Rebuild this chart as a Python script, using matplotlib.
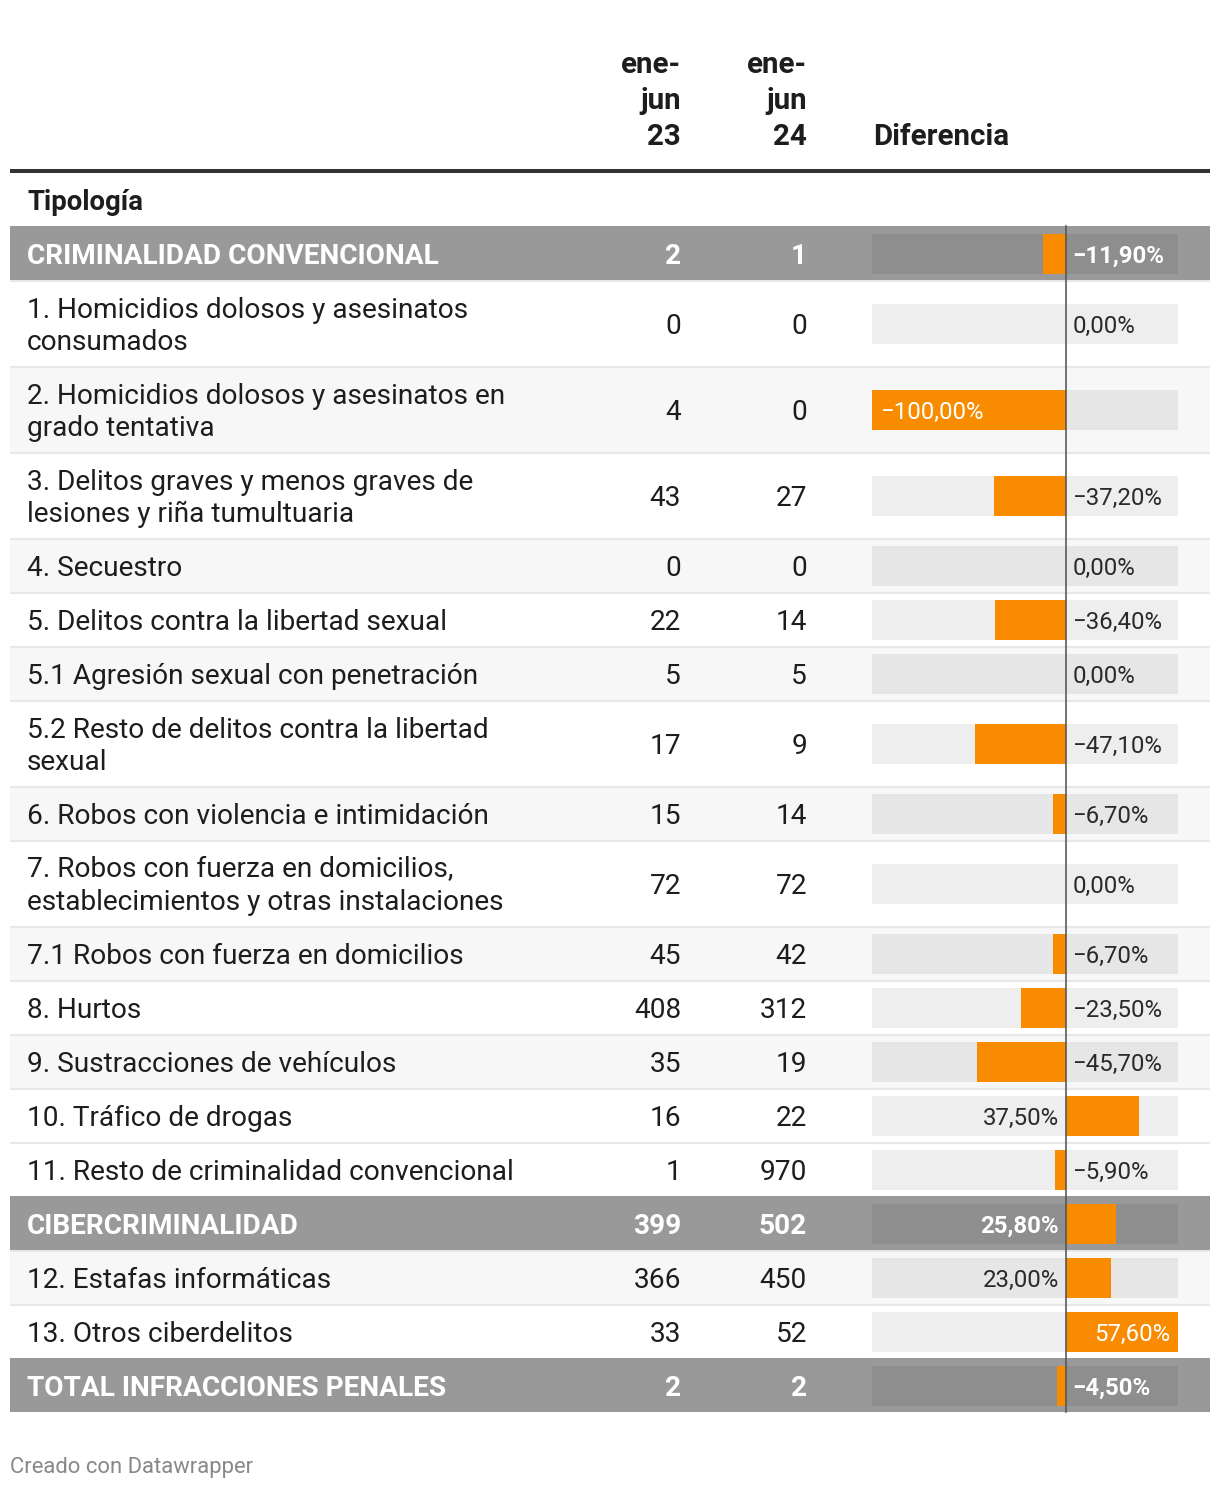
import matplotlib
matplotlib.use('Agg')
from matplotlib import pyplot as plt
from matplotlib.patches import Rectangle
from matplotlib import transforms

plt.rcParams['font.family'] = ['Roboto', 'DejaVu Sans']

# datos de la tabla
categorias = [
    'CRIMINALIDAD CONVENCIONAL',
    '1. Homicidios dolosos y asesinatos\nconsumados',
    '2. Homicidios dolosos y asesinatos en\ngrado tentativa',
    '3. Delitos graves y menos graves de\nlesiones y riña tumultuaria',
    '4. Secuestro',
    '5. Delitos contra la libertad sexual',
    '5.1 Agresión sexual con penetración',
    '5.2 Resto de delitos contra la libertad\nsexual',
    '6. Robos con violencia e intimidación',
    '7. Robos con fuerza en domicilios,\nestablecimientos y otras instalaciones',
    '7.1 Robos con fuerza en domicilios',
    '8. Hurtos',
    '9. Sustracciones de vehículos',
    '10. Tráfico de drogas',
    '11. Resto de criminalidad convencional',
    'CIBERCRIMINALIDAD',
    '12. Estafas informáticas',
    '13. Otros ciberdelitos',
    'TOTAL INFRACCIONES PENALES',
]
ene_jun_23 = [2, 0, 4, 43, 0, 22, 5, 17, 15, 72, 45, 408, 35, 16, 1, 399, 366, 33, 2]
ene_jun_24 = [1, 0, 0, 27, 0, 14, 5, 9, 14, 72, 42, 312, 19, 22, 970, 502, 450, 52, 2]
diferencia = [-11.9, 0.0, -100.0, -37.2, 0.0, -36.4, 0.0, -47.1, -6.7, 0.0,
              -6.7, -23.5, -45.7, 37.5, -5.9, 25.8, 23.0, 57.6, -4.5]
es_grupo = [True, False, False, False, False, False, False, False, False, False,
            False, False, False, False, False, True, False, False, True]

# estilo
rayado = [False, False, True, False, True, False, True, False, True, False,
          True, False, True, False, False, False, True, False, False]
NARANJA = '#f88b00'
TEXTO = '#1d1d1d'
W, H = 1220, 1488
PT = 0.72  # px -> pt (dpi 100)
DY = 2     # ajuste vertical del texto


def fmt(v):
    s = f'{abs(v):.2f}'.replace('.', ',') + '%'
    return ('\u2212' + s) if v < 0 else s


fig = plt.figure(figsize=(W / 100, H / 100), dpi=100)
ax = fig.add_axes([0, 0, 1, 1])
ax.set_xlim(0, W)
ax.set_ylim(H, 0)
ax.axis('off')

# eje de las barras: x en %, y en píxeles
bx0, bx1 = 872, 1178
axb = fig.add_axes([bx0 / W, 0, (bx1 - bx0) / W, 1])
axb.set_xlim(-100, 57.6)
axb.set_ylim(H, 0)
axb.axis('off')
xmin, xmax = axb.get_xlim()

# cabecera
hfs = 29.5 * PT
for k, linea in enumerate(['ene-', 'jun', '23']):
    ax.text(681, 63 + DY + 36 * k, linea, ha='right', va='center', fontsize=hfs,
            fontweight='bold', color=TEXTO)
for k, linea in enumerate(['ene-', 'jun', '24']):
    ax.text(807, 63 + DY + 36 * k, linea, ha='right', va='center', fontsize=hfs,
            fontweight='bold', color=TEXTO)
ax.text(873, 135 + DY, 'Diferencia', ha='left', va='center', fontsize=hfs,
        fontweight='bold', color=TEXTO)
ax.plot([10, 1210], [171, 171], color='#333333', lw=4 * PT, solid_capstyle='butt')
ax.text(27, 201 + DY, 'Tipología', ha='left', va='center', fontsize=27.5 * PT,
        fontweight='bold', color=TEXTO)

fs = 28 * PT
lab_fs = 24 * PT
y = 226
for i, cat in enumerate(categorias):
    lineas = cat.split('\n')
    h = 54 if len(lineas) == 1 else 86
    top, bottom = y, y + h
    c = top + 1 + h / 2
    if es_grupo[i]:
        ax.add_patch(Rectangle((10, top), 1200, h, color='#999999', lw=0))
        col, peso, pista = 'white', 'bold', '#8e8e8e'
    else:
        ax.add_patch(Rectangle((10, top), 1200, 2, color='#e8e8e8', lw=0))
        fondo = '#f7f7f7' if rayado[i] else 'white'
        ax.add_patch(Rectangle((10, top + 2), 1200, h - 2, color=fondo, lw=0))
        col, peso = TEXTO, 'normal'
        pista = '#e6e6e6' if rayado[i] else '#eeeeee'

    off = (len(lineas) - 1) / 2
    for k, linea in enumerate(lineas):
        ax.text(27, c + DY + (k - off) * 32, linea, ha='left', va='center',
                fontsize=fs, fontweight=peso, color=col)
    ax.text(681, c + DY, str(ene_jun_23[i]), ha='right', va='center', fontsize=fs,
            fontweight=peso, color=col)
    ax.text(807, c + DY, str(ene_jun_24[i]), ha='right', va='center', fontsize=fs,
            fontweight=peso, color=col)

    # pista y barra
    axb.barh(c, xmax - xmin, left=xmin, height=40, color=pista, lw=0)
    v = diferencia[i]
    axb.barh(c, v, height=40, color=NARANJA, lw=0)

    # etiqueta
    col_lab = col if es_grupo[i] else '#2a2a2a'
    if abs(v) > 50:
        if v < 0:
            tr = transforms.offset_copy(axb.transData, fig=fig, x=8 * PT, y=-DY * PT, units='points')
            axb.text(xmin, c, fmt(v), ha='left', va='center', transform=tr,
                     fontsize=lab_fs, fontweight=peso, color='white')
        else:
            tr = transforms.offset_copy(axb.transData, fig=fig, x=-8 * PT, y=-DY * PT, units='points')
            axb.text(xmax, c, fmt(v), ha='right', va='center', transform=tr,
                     fontsize=lab_fs, fontweight=peso, color='white')
    elif v > 0:
        tr = transforms.offset_copy(axb.transData, fig=fig, x=-7 * PT, y=-DY * PT, units='points')
        axb.text(0, c, fmt(v), ha='right', va='center', transform=tr,
                 fontsize=lab_fs, fontweight=peso, color=col_lab)
    else:
        tr = transforms.offset_copy(axb.transData, fig=fig, x=6 * PT, y=-DY * PT, units='points')
        axb.text(0, c, fmt(v), ha='left', va='center', transform=tr,
                 fontsize=lab_fs, fontweight=peso, color=col_lab)
    y = bottom

# línea del cero
axb.plot([0, 0], [226, y], color='#555555', lw=1.6 * PT)

ax.text(10, 1465 + DY, 'Creado con Datawrapper', ha='left', va='center',
        fontsize=22 * PT, color='#888888')

fig.savefig('out.png', dpi=100)
